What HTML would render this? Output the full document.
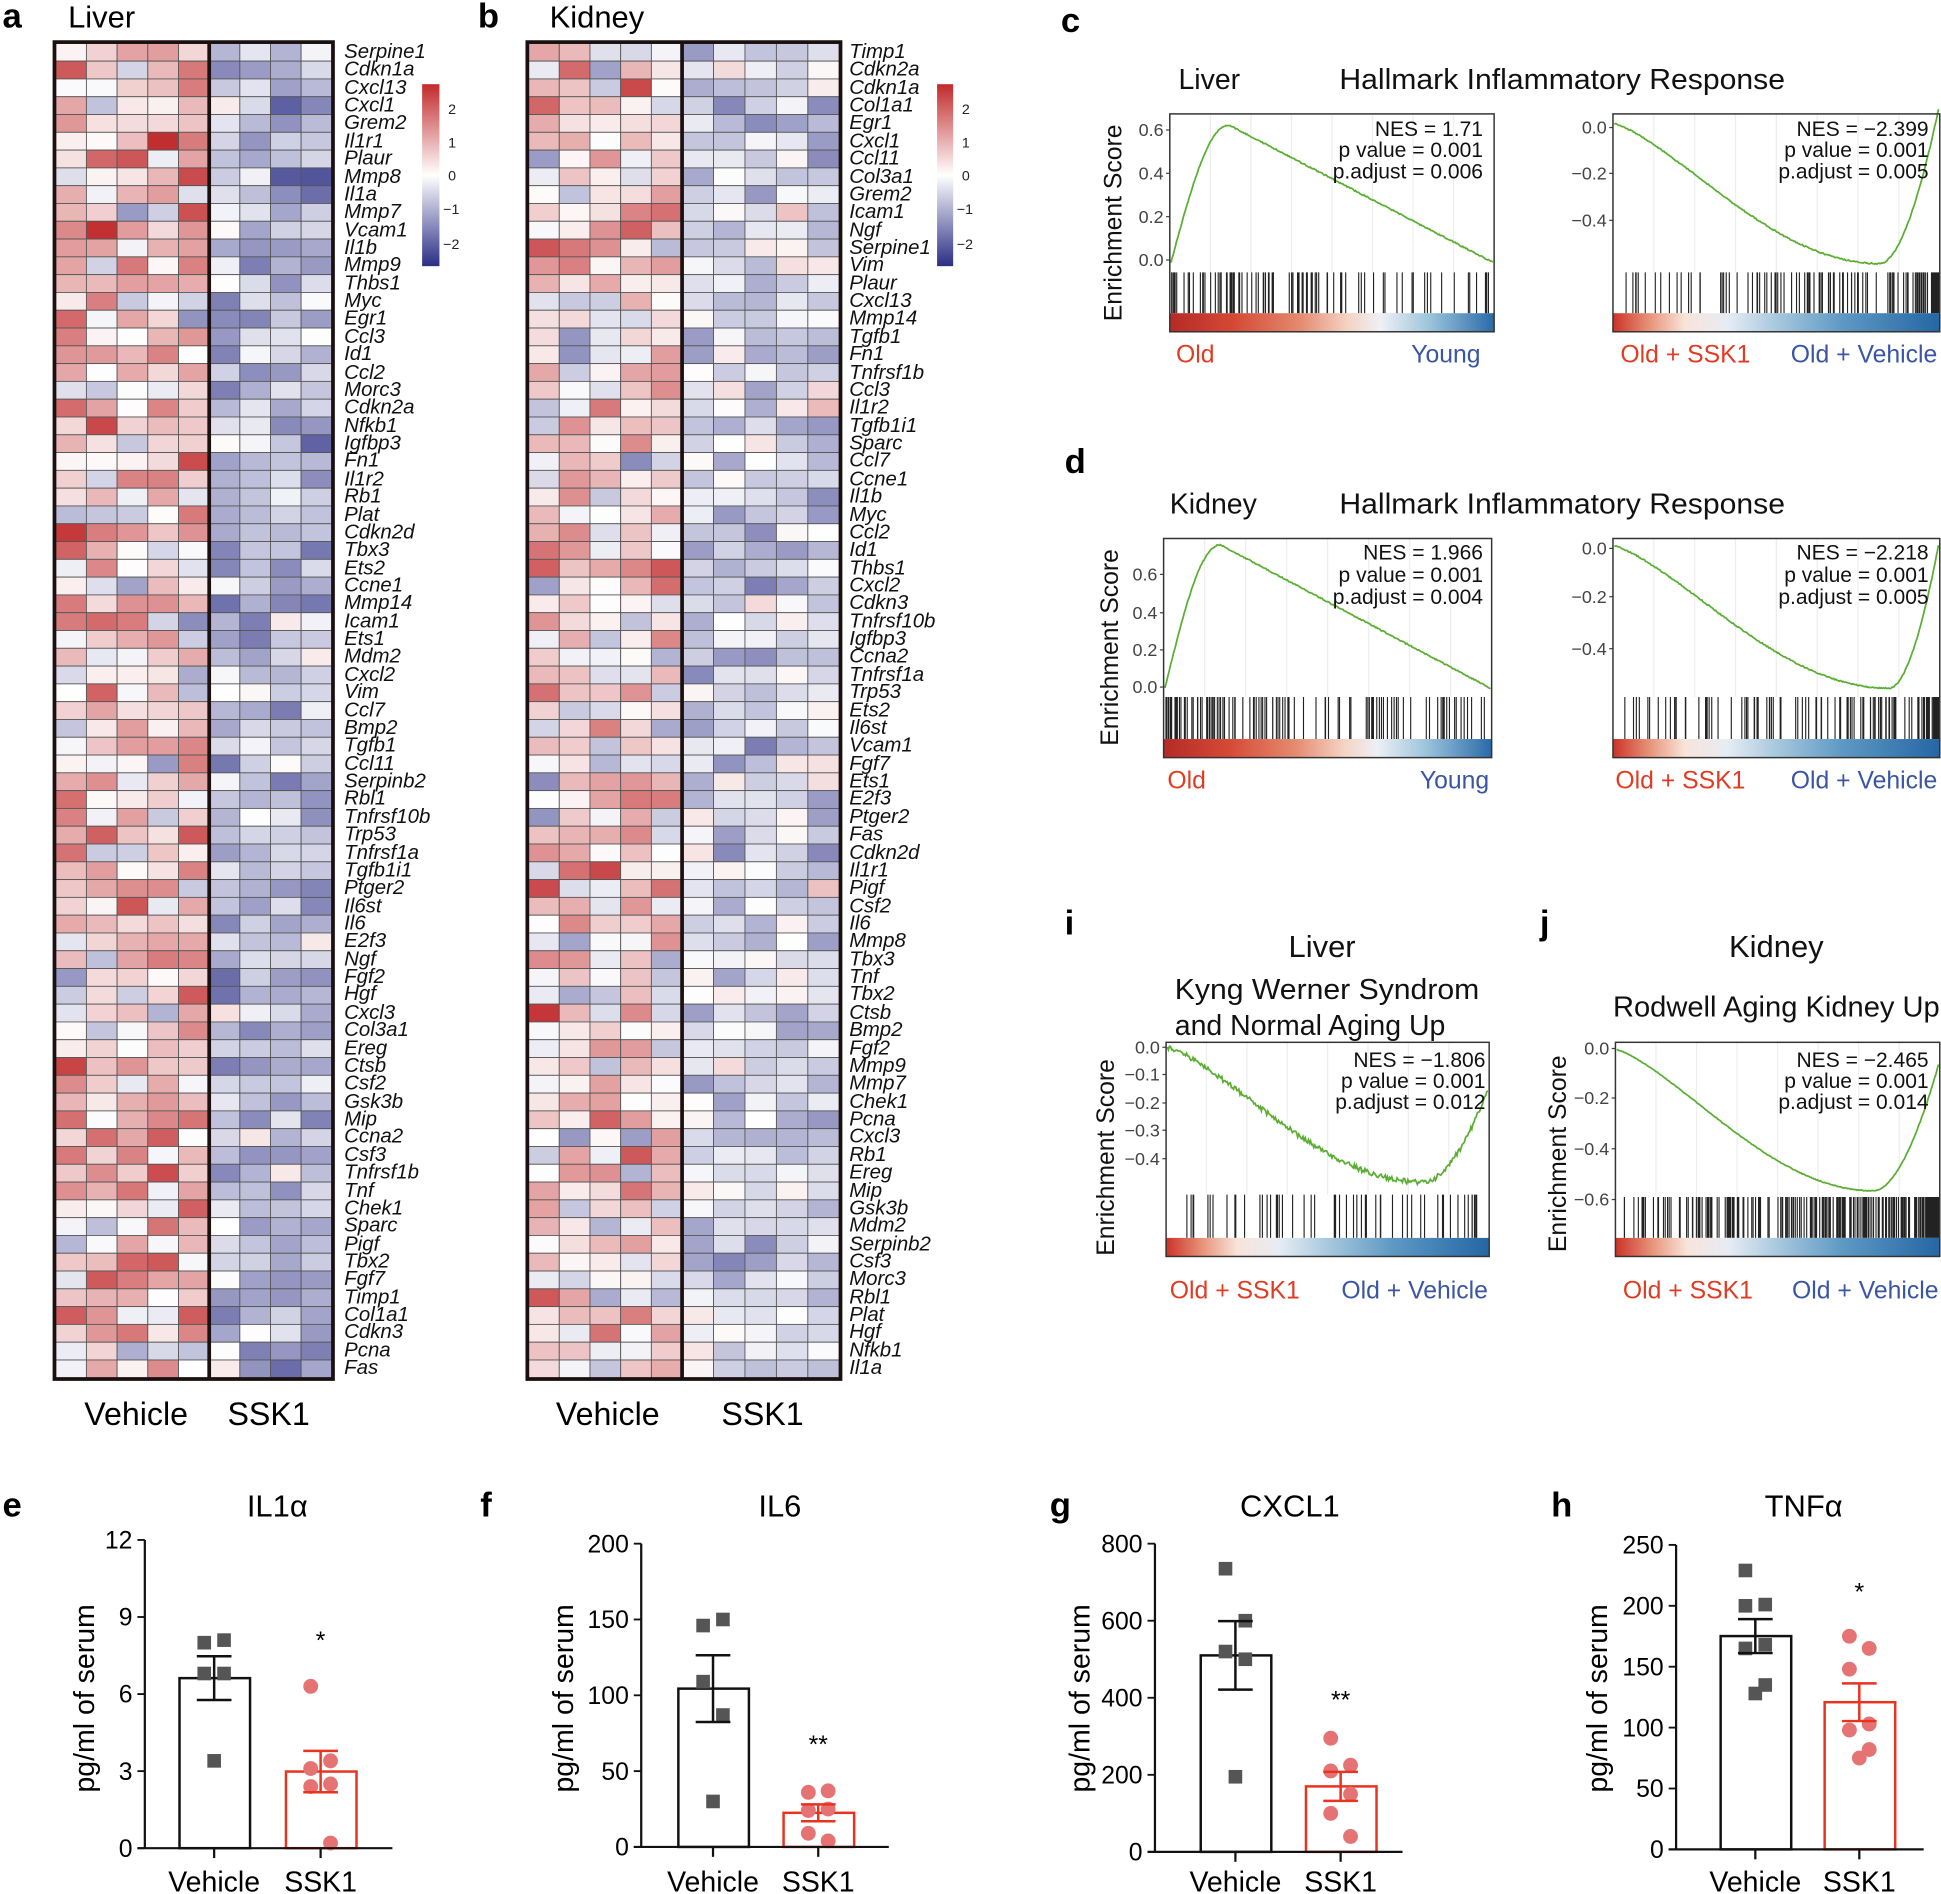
<!DOCTYPE html>
<html><head><meta charset="utf-8"><style>
html,body{margin:0;padding:0;background:#fff;}
svg{display:block;}
text{font-family:"Liberation Sans",sans-serif;}
.g{font-style:italic;font-size:16.5px;fill:#111;}
.n{font-family:"Liberation Sans Narrow","Liberation Sans",sans-serif;}
</style></head><body>
<svg id="s" width="1941" height="1894" viewBox="0 0 1568 1530" xmlns="http://www.w3.org/2000/svg">
<defs>
<linearGradient id="cb" x1="0" y1="0" x2="0" y2="1">
<stop offset="0" stop-color="#c22a2c"/><stop offset="0.5" stop-color="#ffffff"/><stop offset="1" stop-color="#2b2e85"/></linearGradient>
<linearGradient id="rb" x1="0" y1="0" x2="1" y2="0">
<stop offset="0" stop-color="#b52a26"/><stop offset="0.2" stop-color="#d54a35"/><stop offset="0.4" stop-color="#e48a70"/><stop offset="0.55" stop-color="#f4d4c4"/><stop offset="0.65" stop-color="#eef0f5"/><stop offset="0.8" stop-color="#9cc4dc"/><stop offset="1" stop-color="#2a6aa8"/></linearGradient>
<linearGradient id="rb2" x1="0" y1="0" x2="1" y2="0">
<stop offset="0" stop-color="#cc3329"/><stop offset="0.12" stop-color="#e89a80"/><stop offset="0.22" stop-color="#f8e4da"/><stop offset="0.35" stop-color="#e6ecf4"/><stop offset="0.5" stop-color="#a8c8de"/><stop offset="0.7" stop-color="#5e99c4"/><stop offset="1" stop-color="#2566a4"/></linearGradient>
</defs>
<g id="hm"></g>
<text x="2" y="22" font-size="28" font-weight="bold">a</text>
<text x="55" y="22" font-size="25">Liver</text>
<text x="386" y="22" font-size="28" font-weight="bold">b</text>
<text x="444" y="22" font-size="25">Kidney</text>
<rect x="341" y="68" width="14" height="147" fill="url(#cb)"/>
<g font-size="11.5" fill="#222"><text x="362" y="92">2</text><text x="362" y="119">1</text><text x="362" y="146">0</text><text x="358" y="173">−1</text><text x="358" y="201">−2</text></g>
<rect x="757" y="68" width="13" height="147" fill="url(#cb)"/>
<g font-size="11.5" fill="#222"><text x="777" y="92">2</text><text x="777" y="119">1</text><text x="777" y="146">0</text><text x="773" y="173">−1</text><text x="773" y="201">−2</text></g>
<g font-size="26" text-anchor="middle"><text x="110" y="1151">Vehicle</text><text x="217" y="1151">SSK1</text><text x="491" y="1151">Vehicle</text><text x="616" y="1151">SSK1</text></g>
<g class="g" id="lg">
<text x="278" y="47">Serpine1</text><text x="278" y="61">Cdkn1a</text><text x="278" y="76">Cxcl13</text><text x="278" y="90">Cxcl1</text><text x="278" y="104">Grem2</text><text x="278" y="119">Il1r1</text><text x="278" y="133">Plaur</text><text x="278" y="148">Mmp8</text><text x="278" y="162">Il1a</text><text x="278" y="176">Mmp7</text><text x="278" y="191">Vcam1</text><text x="278" y="205">Il1b</text><text x="278" y="219">Mmp9</text><text x="278" y="234">Thbs1</text><text x="278" y="248">Myc</text><text x="278" y="262">Egr1</text><text x="278" y="277">Ccl3</text><text x="278" y="291">Id1</text><text x="278" y="306">Ccl2</text><text x="278" y="320">Morc3</text><text x="278" y="334">Cdkn2a</text><text x="278" y="349">Nfkb1</text><text x="278" y="363">Igfbp3</text><text x="278" y="377">Fn1</text><text x="278" y="392">Il1r2</text><text x="278" y="406">Rb1</text><text x="278" y="421">Plat</text><text x="278" y="435">Cdkn2d</text><text x="278" y="449">Tbx3</text><text x="278" y="464">Ets2</text><text x="278" y="478">Ccne1</text><text x="278" y="492">Mmp14</text><text x="278" y="507">Icam1</text><text x="278" y="521">Ets1</text><text x="278" y="535">Mdm2</text><text x="278" y="550">Cxcl2</text><text x="278" y="564">Vim</text><text x="278" y="579">Ccl7</text><text x="278" y="593">Bmp2</text><text x="278" y="607">Tgfb1</text><text x="278" y="622">Ccl11</text><text x="278" y="636">Serpinb2</text><text x="278" y="650">Rbl1</text><text x="278" y="665">Tnfrsf10b</text><text x="278" y="679">Trp53</text><text x="278" y="694">Tnfrsf1a</text><text x="278" y="708">Tgfb1i1</text><text x="278" y="722">Ptger2</text><text x="278" y="737">Il6st</text><text x="278" y="751">Il6</text><text x="278" y="765">E2f3</text><text x="278" y="780">Ngf</text><text x="278" y="794">Fgf2</text><text x="278" y="808">Hgf</text><text x="278" y="823">Cxcl3</text><text x="278" y="837">Col3a1</text><text x="278" y="852">Ereg</text><text x="278" y="866">Ctsb</text><text x="278" y="880">Csf2</text><text x="278" y="895">Gsk3b</text><text x="278" y="909">Mip</text><text x="278" y="923">Ccna2</text><text x="278" y="938">Csf3</text><text x="278" y="952">Tnfrsf1b</text><text x="278" y="967">Tnf</text><text x="278" y="981">Chek1</text><text x="278" y="995">Sparc</text><text x="278" y="1010">Pigf</text><text x="278" y="1024">Tbx2</text><text x="278" y="1038">Fgf7</text><text x="278" y="1053">Timp1</text><text x="278" y="1067">Col1a1</text><text x="278" y="1081">Cdkn3</text><text x="278" y="1096">Pcna</text><text x="278" y="1110">Fas</text>
</g>
<g class="g">
<text x="686" y="47">Timp1</text><text x="686" y="61">Cdkn2a</text><text x="686" y="76">Cdkn1a</text><text x="686" y="90">Col1a1</text><text x="686" y="104">Egr1</text><text x="686" y="119">Cxcl1</text><text x="686" y="133">Ccl11</text><text x="686" y="148">Col3a1</text><text x="686" y="162">Grem2</text><text x="686" y="176">Icam1</text><text x="686" y="191">Ngf</text><text x="686" y="205">Serpine1</text><text x="686" y="219">Vim</text><text x="686" y="234">Plaur</text><text x="686" y="248">Cxcl13</text><text x="686" y="262">Mmp14</text><text x="686" y="277">Tgfb1</text><text x="686" y="291">Fn1</text><text x="686" y="306">Tnfrsf1b</text><text x="686" y="320">Ccl3</text><text x="686" y="334">Il1r2</text><text x="686" y="349">Tgfb1i1</text><text x="686" y="363">Sparc</text><text x="686" y="377">Ccl7</text><text x="686" y="392">Ccne1</text><text x="686" y="406">Il1b</text><text x="686" y="421">Myc</text><text x="686" y="435">Ccl2</text><text x="686" y="449">Id1</text><text x="686" y="464">Thbs1</text><text x="686" y="478">Cxcl2</text><text x="686" y="492">Cdkn3</text><text x="686" y="507">Tnfrsf10b</text><text x="686" y="521">Igfbp3</text><text x="686" y="535">Ccna2</text><text x="686" y="550">Tnfrsf1a</text><text x="686" y="564">Trp53</text><text x="686" y="579">Ets2</text><text x="686" y="593">Il6st</text><text x="686" y="607">Vcam1</text><text x="686" y="622">Fgf7</text><text x="686" y="636">Ets1</text><text x="686" y="650">E2f3</text><text x="686" y="665">Ptger2</text><text x="686" y="679">Fas</text><text x="686" y="694">Cdkn2d</text><text x="686" y="708">Il1r1</text><text x="686" y="722">Pigf</text><text x="686" y="737">Csf2</text><text x="686" y="751">Il6</text><text x="686" y="765">Mmp8</text><text x="686" y="780">Tbx3</text><text x="686" y="794">Tnf</text><text x="686" y="808">Tbx2</text><text x="686" y="823">Ctsb</text><text x="686" y="837">Bmp2</text><text x="686" y="852">Fgf2</text><text x="686" y="866">Mmp9</text><text x="686" y="880">Mmp7</text><text x="686" y="895">Chek1</text><text x="686" y="909">Pcna</text><text x="686" y="923">Cxcl3</text><text x="686" y="938">Rb1</text><text x="686" y="952">Ereg</text><text x="686" y="967">Mip</text><text x="686" y="981">Gsk3b</text><text x="686" y="995">Mdm2</text><text x="686" y="1010">Serpinb2</text><text x="686" y="1024">Csf3</text><text x="686" y="1038">Morc3</text><text x="686" y="1053">Rbl1</text><text x="686" y="1067">Plat</text><text x="686" y="1081">Hgf</text><text x="686" y="1096">Nfkb1</text><text x="686" y="1110">Il1a</text>
</g>

<g font-size="28" font-weight="bold"><text x="857" y="26">c</text><text x="860" y="382">d</text><text x="860" y="755">i</text><text x="1244" y="755">j</text></g>
<g class="n" font-size="23" fill="#111">
<text x="952" y="72">Liver</text><text x="1082" y="72" textLength="360" lengthAdjust="spacingAndGlyphs">Hallmark Inflammatory Response</text>
<text x="945" y="415">Kidney</text><text x="1082" y="415" textLength="360" lengthAdjust="spacingAndGlyphs">Hallmark Inflammatory Response</text>
<text x="1068" y="773" text-anchor="middle" font-size="25">Liver</text>
<text x="949" y="807" textLength="246" lengthAdjust="spacingAndGlyphs">Kyng Werner Syndrom</text>
<text x="949" y="836">and Normal Aging Up</text>
<text x="1435" y="773" text-anchor="middle" font-size="25">Kidney</text>
<text x="1303" y="821" textLength="264" lengthAdjust="spacingAndGlyphs">Rodwell Aging Kidney Up</text>
</g>
<g id="gs"></g>
<g class="n" font-size="17" fill="#111" text-anchor="end">
<text x="1198" y="110">NES = 1.71</text><text x="1198" y="127">p value = 0.001</text><text x="1198" y="144">p.adjust = 0.006</text>
<text x="1558" y="110">NES = −2.399</text><text x="1558" y="127">p value = 0.001</text><text x="1558" y="144">p.adjust = 0.005</text>
<text x="1198" y="452">NES = 1.966</text><text x="1198" y="470">p value = 0.001</text><text x="1198" y="488">p.adjust = 0.004</text>
<text x="1558" y="452">NES = −2.218</text><text x="1558" y="470">p value = 0.001</text><text x="1558" y="488">p.adjust = 0.005</text>
<text x="1200" y="862">NES = −1.806</text><text x="1200" y="879">p value = 0.001</text><text x="1200" y="896">p.adjust = 0.012</text>
<text x="1558" y="862">NES = −2.465</text><text x="1558" y="879">p value = 0.001</text><text x="1558" y="896">p.adjust = 0.014</text>
</g>
<g class="n" font-size="20">
<text x="950" y="293" fill="#e03c24">Old</text><text x="1196" y="293" fill="#3a55a4" text-anchor="end">Young</text>
<text x="1309" y="293" fill="#e03c24">Old + SSK1</text><text x="1565" y="293" fill="#3a55a4" text-anchor="end">Old + Vehicle</text>
<text x="943" y="637" fill="#e03c24">Old</text><text x="1203" y="637" fill="#3a55a4" text-anchor="end">Young</text>
<text x="1305" y="637" fill="#e03c24">Old + SSK1</text><text x="1565" y="637" fill="#3a55a4" text-anchor="end">Old + Vehicle</text>
<text x="945" y="1049" fill="#e03c24">Old + SSK1</text><text x="1202" y="1049" fill="#3a55a4" text-anchor="end">Old + Vehicle</text>
<text x="1311" y="1049" fill="#e03c24">Old + SSK1</text><text x="1566" y="1049" fill="#3a55a4" text-anchor="end">Old + Vehicle</text>
</g>
<g font-size="20" text-anchor="middle" fill="#111">
<text transform="translate(906,180) rotate(-90)">Enrichment Score</text>
<text transform="translate(903,523) rotate(-90)">Enrichment Score</text>
<text transform="translate(900,935) rotate(-90)">Enrichment Score</text>
<text transform="translate(1265,932) rotate(-90)">Enrichment Score</text>
</g>
<g id="bars"></g>
</svg>
<script>
var S=document.getElementById('s'),NS='http://www.w3.org/2000/svg';
function el(t,a,p){var e=document.createElementNS(NS,t);for(var k in a)e.setAttribute(k,a[k]);(p||S).appendChild(e);return e;}
var seed=7;function rnd(){seed=(seed*16807)%2147483647;return seed/2147483647;}
function gauss(){return (rnd()+rnd()+rnd()-1.5)*1.6;}
function col(v){v=Math.max(-2.4,Math.min(2.4,v))/2.4;var r,g,b;
 if(v>=0){r=255+(192-255)*v;g=255+(40-255)*v;b=255+(42-255)*v;}else{v=-v;r=255+(43-255)*v;g=255+(46-255)*v;b=255+(133-255)*v;}
 return 'rgb('+(r|0)+','+(g|0)+','+(b|0)+')';}
var hm=document.getElementById('hm');
function heat(x0,x1,xd,x2,nv,ns,mv,ms){var y0=35,y1=1113,n=75,rh=(y1-y0)/n;
 var wv=(xd-x0)/nv,ws=(x2-xd)/ns;
 for(var i=0;i<n;i++){for(var j=0;j<nv+ns;j++){var v=j<nv?mv+gauss()*0.9:ms+gauss()*0.55;
  var x=j<nv?x0+j*wv:xd+(j-nv)*ws,w=j<nv?wv:ws;
  el('rect',{x:x,y:y0+i*rh,width:w,height:rh,fill:col(v),stroke:'#555','stroke-width':0.7},hm);}}
 el('rect',{x:x0-1,y:y0-1,width:x2-x0+2,height:y1-y0+2,fill:'none',stroke:'#1a1010','stroke-width':3},hm);
 el('line',{x1:xd,y1:y0,x2:xd,y2:y1,stroke:'#1a1010','stroke-width':3},hm);}
heat(45,268,169,268,5,4,0.55,-0.8);
heat(427,678,551,678,5,5,0.35,-0.45);
var gs=document.getElementById('gs');
function gsea(o){var L=o.x0,R=o.x1,T=o.y0,B=o.y1;
 el('rect',{x:L,y:T,width:R-L,height:B-T,fill:'#fff'},gs);
 for(var i=1;i<8;i++)el('line',{x1:L+(R-L)*i/8,y1:T,x2:L+(R-L)*i/8,y2:o.cb,stroke:'#eee','stroke-width':1},gs);
 o.ticks.forEach(function(t){var tx=el('text',{x:L-5,y:t[1]+5,'font-size':14.5,fill:'#444','text-anchor':'end','class':'n'},gs);tx.textContent=t[0];
  el('line',{x1:L-3,y1:t[1],x2:L,y2:t[1],stroke:'#444'},gs);});
 var p='';for(var i=0;i<o.nb;i++){var u=rnd();u=o.dist(u);var x=L+1+u*(R-L-2);p+='M'+x.toFixed(1)+' '+o.bt+'V'+o.cbt;}
 el('path',{d:p,stroke:'#222','stroke-width':0.9,fill:'none'},gs);
 el('rect',{x:L,y:o.cbt,width:R-L,height:B-o.cbt,fill:o.grad},gs);
 var d='';for(var k=0;k<=300;k++){var u=k/300;var y=o.f(u)+(rnd()-0.5)*o.nz;d+=(k?'L':'M')+(L+1+u*(R-L-2)).toFixed(1)+' '+y.toFixed(1);}
 el('path',{d:d,stroke:'#5aae32','stroke-width':1.4,fill:'none'},gs);
 el('rect',{x:L,y:T,width:R-L,height:B-T,fill:'none',stroke:'#333','stroke-width':1.2},gs);}
function up(u,y0,pk,upk){return u<upk?y0-(y0-pk)*Math.sin(u/upk*Math.PI/2):pk+(y0-pk)*((u-upk)/(1-upk));}
function dn(u,y0,mn,um,yend){return u<um?y0+(mn-y0)*Math.pow(Math.sin(u/um*Math.PI/2),1.3):mn-(mn-yend)*Math.pow((u-um)/(1-um),1.8);}
var early=function(u){return Math.pow(u,1.6);},late=function(u){return 1-Math.pow(u,1.8);},mid=function(u){return u;};
gsea({x0:945,x1:1207,y0:92,y1:268,cb:220,bt:220,cbt:253,grad:'url(#rb)',nb:90,dist:early,nz:1,
 ticks:[['0.6',105],['0.4',140],['0.2',175],['0.0',210]],f:function(u){return up(u,212,101,0.18)}});
gsea({x0:1303,x1:1567,y0:92,y1:268,cb:220,bt:220,cbt:253,grad:'url(#rb2)',nb:110,dist:late,nz:1,
 ticks:[['0.0',103],['−0.2',140],['−0.4',178]],f:function(u){return dn(u,100,213,0.82,88)}});
gsea({x0:940,x1:1205,y0:435,y1:612,cb:563,bt:563,cbt:597,grad:'url(#rb)',nb:110,dist:early,nz:1,
 ticks:[['0.6',464],['0.4',495],['0.2',525],['0.0',555]],f:function(u){return up(u,556,440,0.17)}});
gsea({x0:1303,x1:1567,y0:435,y1:612,cb:563,bt:563,cbt:597,grad:'url(#rb2)',nb:120,dist:late,nz:1,
 ticks:[['0.0',443],['−0.2',482],['−0.4',524]],f:function(u){return dn(u,441,556,0.85,440)}});
gsea({x0:942,x1:1203,y0:842,y1:1015,cb:965,bt:965,cbt:1000,grad:'url(#rb2)',nb:55,dist:mid,nz:4,
 ticks:[['0.0',846],['−0.1',868],['−0.2',891],['−0.3',913],['−0.4',936]],f:function(u){return dn(u,846,955,0.8,880)}});
gsea({x0:1305,x1:1567,y0:842,y1:1015,cb:967,bt:967,cbt:1000,grad:'url(#rb2)',nb:220,dist:late,nz:0.6,
 ticks:[['0.0',847],['−0.2',887],['−0.4',928],['−0.6',969]],f:function(u){return dn(u,848,962,0.8,860)}});
var bars=document.getElementById('bars');
function txt(x,y,s,a){var t=el('text',a,bars);t.setAttribute('x',x);t.setAttribute('y',y);t.textContent=s;return t;}
function bar(o){var ax=o.ax,y0=o.y0,yt=o.yt,sc=(y0-yt)/o.max;function Y(v){return y0-v*sc;}
 txt(o.lx,1225,o.lab,{'font-size':28,'font-weight':'bold'});
 txt(o.tc,1225,o.title,{'font-size':25,'text-anchor':'middle'});
 o.tv.forEach(function(v){el('line',{x1:ax-6,y1:Y(v),x2:ax,y2:Y(v),stroke:'#111','stroke-width':1.5},bars);txt(ax-10,Y(v)+7,String(v),{'font-size':20,'text-anchor':'end'});});
 el('line',{x1:ax,y1:yt,x2:ax,y2:y0,stroke:'#111','stroke-width':1.8},bars);
 txt(0,0,'pg/ml of serum',{'font-size':23,'text-anchor':'middle',transform:'translate('+o.yl+',1372) rotate(-90)'});
 [[o.v,'#111',o.bv,0],[o.s,'#e8331f',o.bs,1]].forEach(function(g){var d=g[0],c=g[1],bx=g[2];
  var m=d.reduce(function(a,b){return a+b},0)/d.length;var sd=Math.sqrt(d.reduce(function(a,b){return a+(b-m)*(b-m)},0)/(d.length-1))/Math.sqrt(d.length);
  var cx=bx+28;
  el('rect',{x:bx,y:Y(m),width:57,height:y0-Y(m),fill:'none',stroke:c,'stroke-width':2},bars);
  d.forEach(function(v,i){var dx=(i%2?8:-8)*(i==d.length-1&&d.length%2?0:1);
   if(g[3]==0)el('rect',{x:cx+dx-5.5,y:Y(v)-5.5,width:11,height:11,fill:'#555'},bars);
   else el('circle',{cx:cx+dx,cy:Y(v),r:6,fill:'#e57373'},bars);});
  el('line',{x1:cx,y1:Y(m+sd),x2:cx,y2:Y(m-sd),stroke:c,'stroke-width':2},bars);
  el('line',{x1:cx-14,y1:Y(m+sd),x2:cx+14,y2:Y(m+sd),stroke:c,'stroke-width':2},bars);
  el('line',{x1:cx-14,y1:Y(m-sd),x2:cx+14,y2:Y(m-sd),stroke:c,'stroke-width':2},bars);
  el('line',{x1:cx,y1:y0,x2:cx,y2:y0+8,stroke:'#111','stroke-width':1.8},bars);
  txt(cx,1528,g[3]?'SSK1':'Vehicle',{'font-size':23,'text-anchor':'middle'});});
 el('line',{x1:ax-6,y1:y0,x2:ax+200,y2:y0,stroke:'#111','stroke-width':1.8},bars);
 txt(o.bs+28,o.sy,o.star,{'font-size':20,'text-anchor':'middle'});}
bar({lab:'e',lx:2,title:'IL1α',tc:224,ax:117,y0:1493,yt:1244,max:12,tv:[0,3,6,9,12],yl:76,bv:145,bs:231,
 v:[8.0,8.1,6.8,6.8,3.4],s:[6.3,3.4,3.1,2.5,2.4,0.2],star:'*',sy:1332});
bar({lab:'f',lx:388,title:'IL6',tc:630,ax:518,y0:1492,yt:1247,max:200,tv:[0,50,100,150,200],yl:463,bv:548,bs:633,
 v:[146,150,109,87,30],s:[36,37,24,25,9,4],star:'**',sy:1416});
bar({lab:'g',lx:848,title:'CXCL1',tc:1042,ax:933,y0:1496,yt:1247,max:800,tv:[0,200,400,600,800],yl:880,bv:970,bs:1055,
 v:[735,600,520,500,195],s:[295,225,210,150,100,40],star:'**',sy:1380});
bar({lab:'h',lx:1253,title:'TNFα',tc:1457,ax:1354,y0:1494,yt:1248,max:250,tv:[0,50,100,150,200,250],yl:1298,bv:1390,bs:1474,
 v:[229,201,200,168,165,135,128],s:[175,165,148,103,98,82,75],star:'*',sy:1293});
</script>
</body></html>
